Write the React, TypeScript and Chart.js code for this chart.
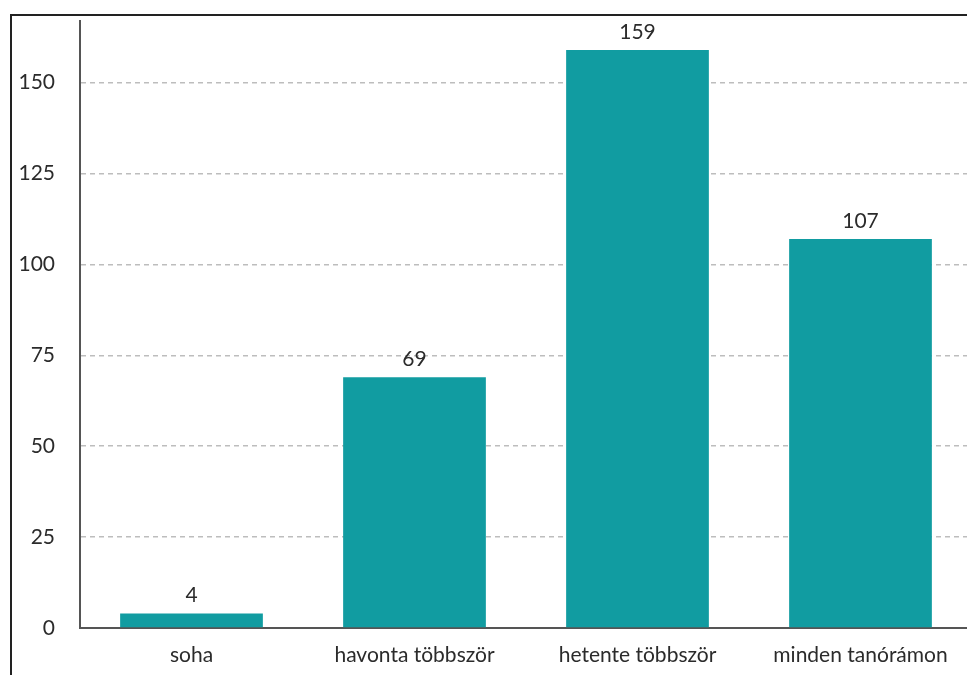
import React, { useEffect, useRef } from "react";
import { Chart, registerables } from "chart.js";

Chart.register(...registerables);

// Answer categories and respondent counts
const categories = ["soha", "havonta többször", "hetente többször", "minden tanórámon"];
const counts = [4, 69, 159, 107];
const yTickStep = 25;
const yMax = 159 * 1.05;

const FONT = "Lato, 'Open Sans', sans-serif";
const TEXT = "#2b2b2b";

// Writes each bar's value just above its top
const valueLabels = {
  id: "valueLabels",
  afterDatasetsDraw(chart: any) {
    const ctx = chart.ctx;
    const meta = chart.getDatasetMeta(0);
    ctx.save();
    ctx.font = `21px ${FONT}`;
    ctx.fillStyle = TEXT;
    ctx.textAlign = "center";
    ctx.textBaseline = "alphabetic";
    meta.data.forEach((bar: any, i: number) => {
      ctx.fillText(String(counts[i]), bar.x, bar.y - 11);
    });
    ctx.restore();
  },
};

export default function App() {
  const ref = useRef<HTMLCanvasElement>(null);

  useEffect(() => {
    if (!ref.current) return;
    const chart = new Chart(ref.current, {
      type: "bar",
      data: {
        labels: categories,
        datasets: [
          {
            data: counts,
            backgroundColor: "#119ca1",
            borderWidth: 0,
            categoryPercentage: 1,
            barPercentage: 0.64,
          },
        ],
      },
      options: {
        animation: false,
        responsive: false,
        devicePixelRatio: 1,
        layout: { padding: { top: 21, right: 28, bottom: 0, left: 0 } },
        plugins: {
          legend: { display: false },
          tooltip: { enabled: false },
        },
        scales: {
          x: {
            grid: { display: false, drawTicks: false },
            border: { display: true, color: "#555555", width: 2 },
            ticks: {
              autoSkip: false,
              maxRotation: 0,
              padding: 15,
              color: TEXT,
              font: { family: FONT, size: 21 },
            },
            afterFit(scale: any) {
              scale.height = 47;
              scale.paddingLeft = 0;
              scale.paddingRight = 0;
            },
          },
          y: {
            min: 0,
            max: yMax,
            afterBuildTicks(scale: any) {
              scale.ticks = scale.ticks.filter((t: any) => t.value % yTickStep === 0);
            },
            ticks: {
              stepSize: yTickStep,
              padding: 25,
              color: TEXT,
              font: { family: FONT, size: 21 },
            },
            grid: {
              drawTicks: false,
              color: (c: any) => (c.tick && c.tick.value === 0 ? "rgba(0,0,0,0)" : "#bdbdbd"),
              lineWidth: 1.5,
            },
            border: { display: true, color: "#555555", width: 2, dash: [5, 4] },
            afterFit(scale: any) {
              scale.width = 80;
              scale.paddingTop = 0;
              scale.paddingBottom = 0;
            },
          },
        },
      },
      plugins: [valueLabels],
    });
    return () => chart.destroy();
  }, []);

  return (
    <div
      style={{
        position: "fixed",
        inset: 0,
        overflow: "hidden",
        background: "#ffffff",
      }}
    >
      <div
        style={{
          position: "absolute",
          left: 10,
          top: 14,
          width: 1000,
          height: 700,
          border: "2px solid #222222",
          boxSizing: "border-box",
        }}
      />
      <canvas
        ref={ref}
        width={1000}
        height={675}
        style={{ position: "absolute", left: 0, top: 0, width: 1000, height: 675 }}
      />
    </div>
  );
}
